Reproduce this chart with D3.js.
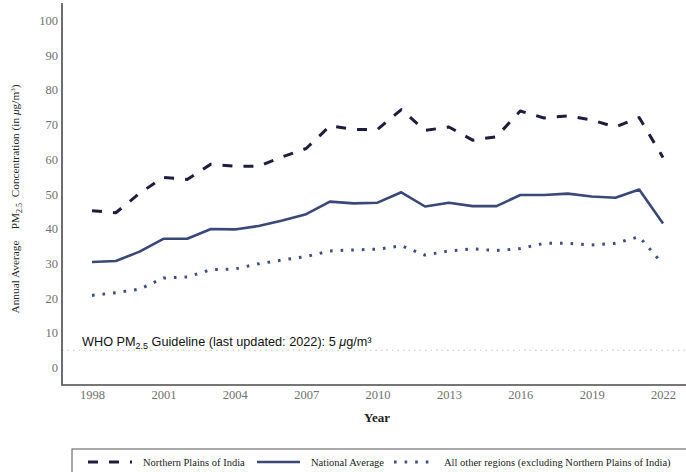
<!DOCTYPE html>
<html>
<head>
<meta charset="utf-8">
<script src="https://cdn.jsdelivr.net/npm/d3@7"></script>
<style>
  html, body { margin: 0; padding: 0; background: #fff; }
  svg { display: block; }
</style>
</head>
<body>
<svg id="chart" width="686" height="472"></svg>
<script>
// Annual average PM2.5 concentration, 1998–2022 (µg/m³)
const years = d3.range(1998, 2023);
const northernPlains = [45.2, 44.6, 50.2, 54.8, 54.2, 58.6, 58.0, 58.0, 60.7, 63.1, 69.6, 68.6, 68.6,
                        74.3, 68.3, 69.3, 65.5, 66.5, 73.9, 71.9, 72.5, 71.3, 69.3, 72.0, 60.5];
const nationalAverage = [30.4, 30.7, 33.4, 37.1, 37.1, 39.9, 39.8, 40.8, 42.4, 44.2, 47.8, 47.3, 47.5,
                         50.5, 46.4, 47.5, 46.5, 46.5, 49.7, 49.7, 50.1, 49.3, 48.9, 51.3, 41.5];
const otherRegions = [20.8, 21.6, 22.6, 25.8, 26.1, 28.2, 28.4, 29.9, 31.0, 32.0, 33.6, 33.9, 34.1,
                      35.1, 32.4, 33.6, 34.2, 33.7, 34.3, 35.8, 35.8, 35.3, 35.8, 37.7, 29.8];
const xTicks = [1998, 2001, 2004, 2007, 2010, 2013, 2016, 2019, 2022];
const yTicks = [0, 10, 20, 30, 40, 50, 60, 70, 80, 90, 100];
const whoGuideline = 5;
const seriesNames = ["Northern Plains of India", "National Average",
                     "All other regions (excluding Northern Plains of India)"];

const svg = d3.select("#chart");
const frame = { left: 62, right: 686, top: 3, bottom: 385 };

const x = d3.scaleLinear().domain([1998, 2022]).range([92, 663]);
const y = d3.scaleLinear().domain([-5, 105]).range([frame.bottom, frame.top]);

const serif = "'Liberation Serif', 'Times New Roman', serif";
const sans = "'Liberation Sans', Arial, Helvetica, sans-serif";

// WHO guideline reference line
svg.append("line")
  .attr("x1", frame.left).attr("x2", frame.right)
  .attr("y1", y(whoGuideline)).attr("y2", y(whoGuideline))
  .attr("stroke", "#c4c4c4").attr("stroke-width", 1.2)
  .attr("stroke-dasharray", "1.5,4");

const who = svg.append("text")
  .attr("x", 82).attr("y", 346)
  .style("font-family", sans).style("font-size", "12.7px").attr("fill", "#111");
who.append("tspan").text("WHO PM");
who.append("tspan").style("font-size", "9px").attr("dy", 3).text("2.5");
who.append("tspan").attr("dy", -3).text(" Guideline (last updated: 2022): 5 ");
who.append("tspan").style("font-style", "italic").text("μ");
who.append("tspan").text("g/m³");

// Series lines
const lineGen = d3.line().x((d, i) => x(years[i])).y(d => y(d));
const series = [
  { name: seriesNames[0], values: northernPlains, color: "#1c1d3f", width: 3, dash: "10,11" },
  { name: seriesNames[1], values: nationalAverage, color: "#394878", width: 2.6, dash: null },
  { name: seriesNames[2], values: otherRegions, color: "#3d4c82", width: 3, dash: "2.6,8" }
];

series.forEach(s => {
  svg.append("path")
    .datum(s.values)
    .attr("d", lineGen)
    .attr("fill", "none")
    .attr("stroke", s.color)
    .attr("stroke-width", s.width)
    .attr("stroke-linejoin", "round")
    .attr("stroke-dasharray", s.dash);
});

// Axes (tick labels only; frame lines drawn separately)
const yAxis = svg.append("g")
  .attr("transform", `translate(${frame.left - 4},0)`)
  .call(d3.axisLeft(y).tickValues(yTicks).tickSize(0).tickPadding(0));
yAxis.select(".domain").remove();
yAxis.attr("font-family", null).attr("font-size", null);
yAxis.selectAll("text")
  .style("font-family", serif).style("font-size", "12.5px").attr("fill", "#707070");

const xAxis = svg.append("g")
  .attr("transform", `translate(0,${frame.bottom})`)
  .call(d3.axisBottom(x).tickValues(xTicks).tickFormat(d3.format("d")).tickSize(0).tickPadding(5));
xAxis.select(".domain").remove();
xAxis.attr("font-family", null).attr("font-size", null);
xAxis.selectAll("text")
  .style("font-family", serif).style("font-size", "12.5px").attr("fill", "#707070");

svg.append("path")
  .attr("d", `M${frame.left},${frame.top}V${frame.bottom}H${frame.right}`)
  .attr("fill", "none").attr("stroke", "#4a4a4a").attr("stroke-width", 1.6);

// Axis titles
svg.append("text")
  .attr("x", 377).attr("y", 422)
  .attr("text-anchor", "middle")
  .style("font-family", serif).style("font-size", "13px").style("font-weight", "bold").attr("fill", "#222")
  .text("Year");

const yTitle = svg.append("text")
  .attr("transform", "translate(19,199) rotate(-90)")
  .attr("text-anchor", "middle")
  .style("font-family", serif).style("font-size", "11.3px").attr("fill", "#222")
  .style("white-space", "pre");
yTitle.append("tspan").text("Annual Average    PM");
yTitle.append("tspan").style("font-size", "8px").attr("dy", 3).text("2.5");
yTitle.append("tspan").attr("dy", -3).text("  Concentration (in ");
yTitle.append("tspan").style("font-style", "italic").text("μ");
yTitle.append("tspan").text("g/m");
yTitle.append("tspan").style("font-size", "7px").attr("dy", -4).text("3");
yTitle.append("tspan").attr("dy", 4).text(")");

// Legend
const legend = svg.append("g");
legend.append("rect")
  .attr("x", 72).attr("y", 449).attr("width", 640).attr("height", 40)
  .attr("fill", "none").attr("stroke", "#555").attr("stroke-width", 1);

const legendItems = [
  { s: series[0], x0: 88, x1: 132, tx: 143 },
  { s: series[1], x0: 257, x1: 300, tx: 311 },
  { s: series[2], x0: 394, x1: 436, tx: 444 }
];
legendItems.forEach(it => {
  legend.append("line")
    .attr("x1", it.x0).attr("x2", it.x1).attr("y1", 462).attr("y2", 462)
    .attr("stroke", it.s.color).attr("stroke-width", it.s.width)
    .attr("stroke-dasharray", it.s.dash);
  legend.append("text")
    .attr("x", it.tx).attr("y", 466)
    .style("font-family", serif).style("font-size", "10.5px").attr("fill", "#222")
    .text(it.s.name);
});
</script>
</body>
</html>
